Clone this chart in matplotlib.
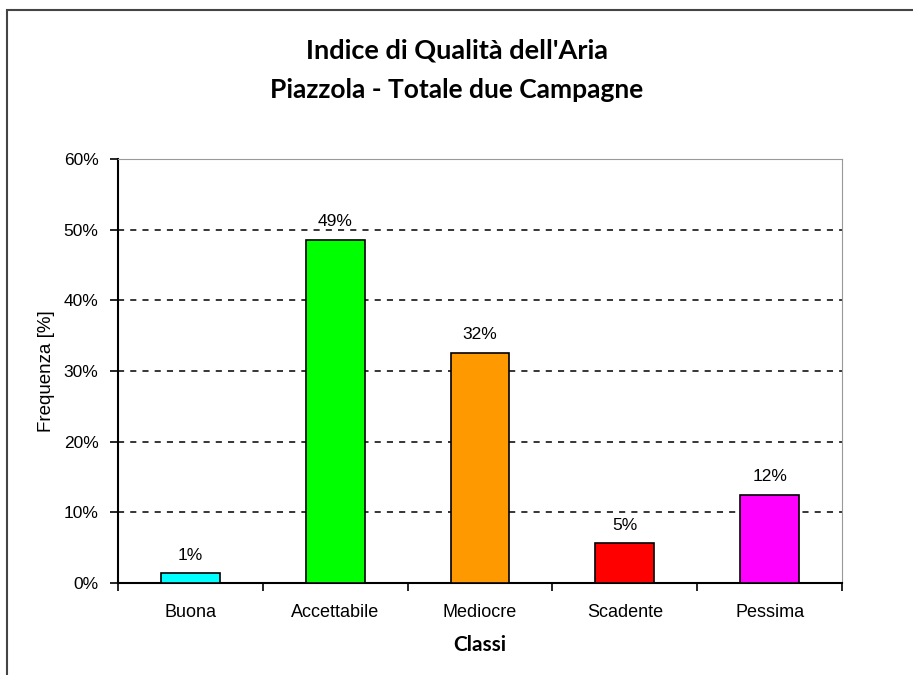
import numpy as np
import matplotlib.pyplot as plt
from matplotlib.patches import Rectangle

# Data
classi = ['Buona', 'Accettabile', 'Mediocre', 'Scadente', 'Pessima']
frequenza = [1.4, 48.6, 32.6, 5.6, 12.5]
etichette = ['1%', '49%', '32%', '5%', '12%']
colori = ['#00FFFF', '#00FF00', '#FF9900', '#FF0000', '#FF00FF']

plt.rcParams['font.family'] = ['Liberation Sans', 'DejaVu Sans']
titolo_font = ['Lato', 'DejaVu Sans']

fig = plt.figure(figsize=(9.13, 6.75), dpi=100)
ax = fig.add_axes([118 / 913, 1 - 583 / 675, (842 - 118) / 913, (583 - 159) / 675])

x = np.arange(len(classi))
ax.bar(x, frequenza, width=0.405, color=colori, edgecolor='black', linewidth=1.2, zorder=3)

for xi, v, lab in zip(x, frequenza, etichette):
    ax.annotate(lab, (xi, v), xytext=(0, 13), textcoords='offset points',
                ha='center', va='center', fontsize=12.5)

ax.set_xlim(-0.5, len(classi) - 0.5)
ax.set_ylim(0, 60)
ax.set_yticks(np.arange(0, 61, 10))
ax.set_yticklabels([f'{t}%' for t in range(0, 61, 10)], fontsize=12.5)

# category boundaries get the tick marks, labels sit in the middle
ax.set_xticks(np.arange(-0.5, len(classi), 1.0))
ax.set_xticklabels([])
ax.set_xticks(x, minor=True)
ax.set_xticklabels(classi, minor=True, fontsize=13)
ax.tick_params(axis='x', which='major', direction='out', length=6, width=1.2)
ax.tick_params(axis='x', which='minor', length=0, pad=15)
ax.tick_params(axis='y', direction='out', length=6, width=1.2, pad=8)

for y in range(10, 60, 10):
    ax.axhline(y, color='black', linestyle=(0, (4, 4)), linewidth=1.1, zorder=1)

ax.spines['left'].set_linewidth(1.5)
ax.spines['bottom'].set_linewidth(1.5)
ax.spines['top'].set_color('#999999')
ax.spines['right'].set_color('#999999')

ax.set_ylabel('Frequenza [%]', fontsize=13.5, labelpad=6)
ax.set_xlabel('Classi', fontsize=15, fontweight='bold', labelpad=10, family=titolo_font)

fig.text(0.5, 1 - 50 / 675, "Indice di Qualità dell'Aria", ha='center', va='center',
         fontsize=19.5, fontweight='bold', family=titolo_font)
fig.text(0.5, 1 - 90 / 675, 'Piazzola - Totale due Campagne', ha='center', va='center',
         fontsize=19, fontweight='bold', family=titolo_font)

# outer chart frame, cut off on the right and bottom
fig.patches.append(Rectangle((7 / 913, -0.1), 1.1, 1.1 - 10 / 675,
                             transform=fig.transFigure, fill=False,
                             edgecolor='#444444', linewidth=1.5))

fig.savefig('out.png', dpi=100)
